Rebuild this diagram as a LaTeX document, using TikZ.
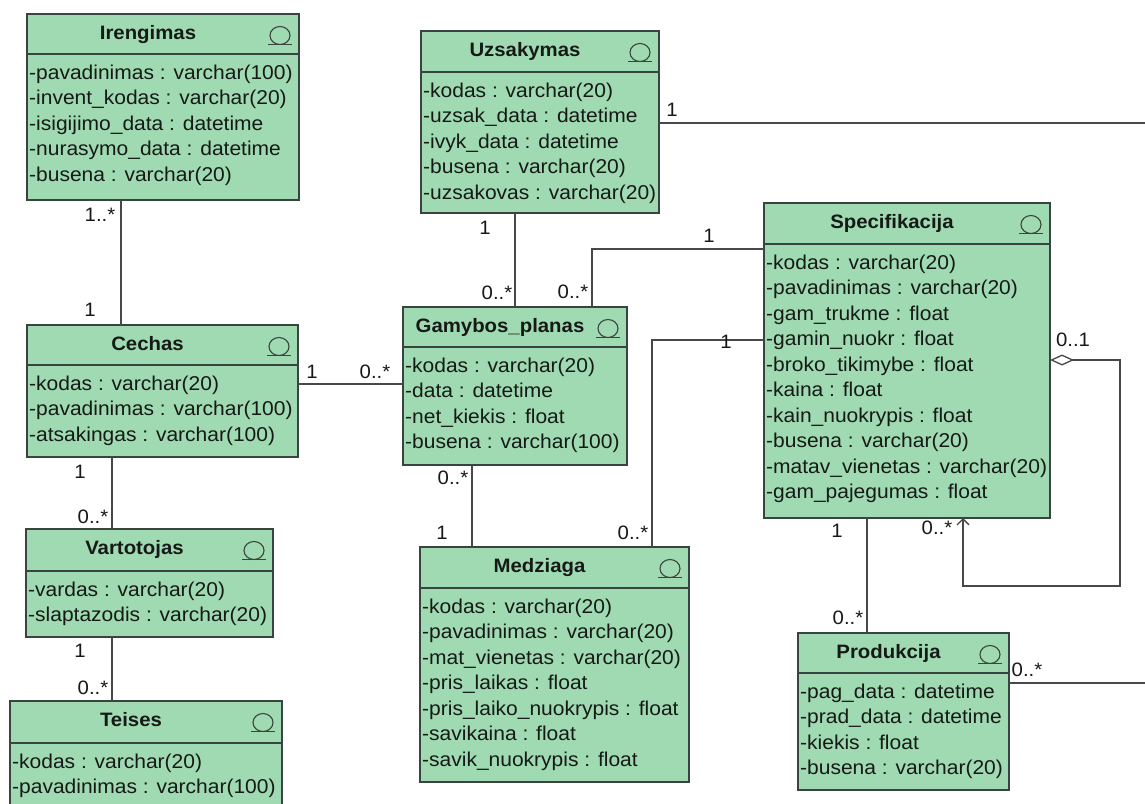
\documentclass[tikz,border=0pt]{standalone}
\usepackage{fontspec}
\setmainfont{Liberation Sans}[FakeStretch=1.05]
\usetikzlibrary{arrows.meta}

\definecolor{classfill}{RGB}{160,218,178}
\definecolor{classedge}{RGB}{58,68,62}
\definecolor{inktext}{RGB}{22,26,22}
\definecolor{wire}{RGB}{72,72,72}

\tikzset{
  classbox/.style={draw=classedge, fill=classfill, line width=1.2pt,
    inner sep=0pt, outer sep=0pt, anchor=north west},
  classrule/.style={draw=classedge, line width=1.2pt},
  classtitle/.style={font=\fontsize{19.4}{21}\selectfont\bfseries,
    text=inktext, inner sep=0pt, anchor=base},
  attr/.style={font=\fontsize{20}{21}\selectfont, text=inktext,
    inner sep=0pt, anchor=base west},
  mult/.style={font=\fontsize{19.4}{21}\selectfont, text=inktext, inner sep=0pt},
  assoc/.style={draw=wire, line width=1.3pt},
  entityicon/.style={draw=classedge, line width=1.1pt},
}

% #1 name, #2 left, #3 top, #4 right, #5 header rule, #6 bottom, #7 title, #8 attributes
\newcommand\umlclass[8]{%
  \node[classbox, minimum width={(#4)-(#2)}, minimum height={(#6)-(#3)}] (#1) at (#2,#3) {};
  \draw[classrule] (#2,#5) -- (#4,#5);
  \node[classtitle] at ({(#2+#4)/2-15},{#3+25}) {#7};
  \draw[entityicon] ({#4-19},{#3+21.5}) ellipse [x radius=10pt, y radius=9pt];
  \draw[entityicon] ({#4-31},{#3+30.5}) -- ({#4-7},{#3+30.5});
  \foreach \r [count=\i from 0] in {#8}
    \node[attr] at ({#2+2},{#5+25+25.5*\i}) {\r};
}

\begin{document}
\begin{tikzpicture}[x=1pt, y=-1pt]
  \useasboundingbox (0,0) rectangle (1145,803);
  \fill[white] (0,0) rectangle (1145,803);
  \clip (0,0) rectangle (1145,803);

  % classes
  \umlclass{iren}{27}{14}{299}{54}{200}{Irengimas}{
    {-pavadinimas : varchar(100)},{-invent\_kodas : varchar(20)},
    {-isigijimo\_data : datetime},{-nurasymo\_data : datetime},
    {-busena : varchar(20)}}
  \umlclass{uzsa}{421}{31}{659}{72}{213}{Uzsakymas}{
    {-kodas : varchar(20)},{-uzsak\_data : datetime},{-ivyk\_data : datetime},
    {-busena : varchar(20)},{-uzsakovas : varchar(20)}}
  \umlclass{spec}{764}{203}{1050}{244}{518}{Specifikacija}{
    {-kodas : varchar(20)},{-pavadinimas : varchar(20)},{-gam\_trukme : float},
    {-gamin\_nuokr : float},{-broko\_tikimybe : float},{-kaina : float},
    {-kain\_nuokrypis : float},{-busena : varchar(20)},
    {-matav\_vienetas : varchar(20)},{-gam\_pajegumas : float}}
  \umlclass{gamy}{403}{307}{627}{347}{465}{Gamybos\_planas}{
    {-kodas : varchar(20)},{-data : datetime},{-net\_kiekis : float},
    {-busena : varchar(100)}}
  \umlclass{cech}{27}{325}{298}{365}{457}{Cechas}{
    {-kodas : varchar(20)},{-pavadinimas : varchar(100)},
    {-atsakingas : varchar(100)}}
  \umlclass{vart}{26}{529}{273}{571}{637}{Vartotojas}{
    {-vardas : varchar(20)},{-slaptazodis : varchar(20)}}
  \umlclass{teis}{10}{701}{282}{743}{812}{Teises}{
    {-kodas : varchar(20)},{-pavadinimas : varchar(100)}}
  \umlclass{medz}{420}{547}{689}{588}{782}{Medziaga}{
    {-kodas : varchar(20)},{-pavadinimas : varchar(20)},
    {-mat\_vienetas : varchar(20)},{-pris\_laikas : float},
    {-pris\_laiko\_nuokrypis : float},{-savikaina : float},
    {-savik\_nuokrypis : float}}
  \umlclass{prod}{798}{633}{1009}{673}{790}{Produkcija}{
    {-pag\_data : datetime},{-prad\_data : datetime},{-kiekis : float},
    {-busena : varchar(20)}}

  % loose ends and bends
  \coordinate (uzsaOut) at (1145,123);
  \coordinate (prodOut) at (1145,683);
  \coordinate (loopCorner) at (1120,586);

  % associations
  \draw[assoc] (iren.south -| 121,0) -- (cech.north -| 121,0);
  \draw[assoc] (cech.east |- 0,384) -- (gamy.west |- 0,384);
  \draw[assoc] (cech.south -| 112,0) -- (vart.north -| 112,0);
  \draw[assoc] (vart.south -| 112,0) -- (teis.north -| 112,0);
  \draw[assoc] (uzsa.south -| 515,0) -- (gamy.north -| 515,0);
  \draw[assoc] (spec.west |- 0,249) -| (gamy.north -| 592,0);
  \draw[assoc] (uzsa.east |- uzsaOut) -- (uzsaOut);
  \draw[assoc] (spec.west |- 0,340) -| (medz.north -| 652,0);
  \draw[assoc] (gamy.south -| 472,0) -- (medz.north -| 472,0);
  \draw[assoc] (spec.south -| 867,0) -- (prod.north -| 867,0);
  \draw[assoc] (prod.east |- prodOut) -- (prodOut);
  \draw[assoc, {Diamond[open, length=24pt, width=11pt]}-{Straight Barb[length=6pt, width=12pt]}]
    (spec.east |- 0,360) -| (loopCorner) -| (spec.south -| 963,0);

  % multiplicities
  \node[mult] (m1)  at (100,215) {1..*};
  \node[mult] (m2)  at (90,310)  {1};
  \node[mult] (m3)  at (312,372) {1};
  \node[mult] (m4)  at (375,372) {0..*};
  \node[mult] (m5)  at (80,472)  {1};
  \node[mult] (m6)  at (93,517)  {0..*};
  \node[mult] (m7)  at (80,651)  {1};
  \node[mult] (m8)  at (93,688)  {0..*};
  \node[mult] (m9)  at (485,228) {1};
  \node[mult] (m10) at (497,293) {0..*};
  \node[mult] (m11) at (709,236) {1};
  \node[mult] (m12) at (573,292) {0..*};
  \node[mult] (m13) at (672,110) {1};
  \node[mult] (m14) at (726,342) {1};
  \node[mult] (m15) at (633,533) {0..*};
  \node[mult] (m16) at (453,478) {0..*};
  \node[mult] (m17) at (442,533) {1};
  \node[mult] (m18) at (1073,340) {0..1};
  \node[mult] (m19) at (937,528) {0..*};
  \node[mult] (m20) at (837,531) {1};
  \node[mult] (m21) at (848,618) {0..*};
  \node[mult] (m22) at (1027,670) {0..*};
\end{tikzpicture}
\end{document}
